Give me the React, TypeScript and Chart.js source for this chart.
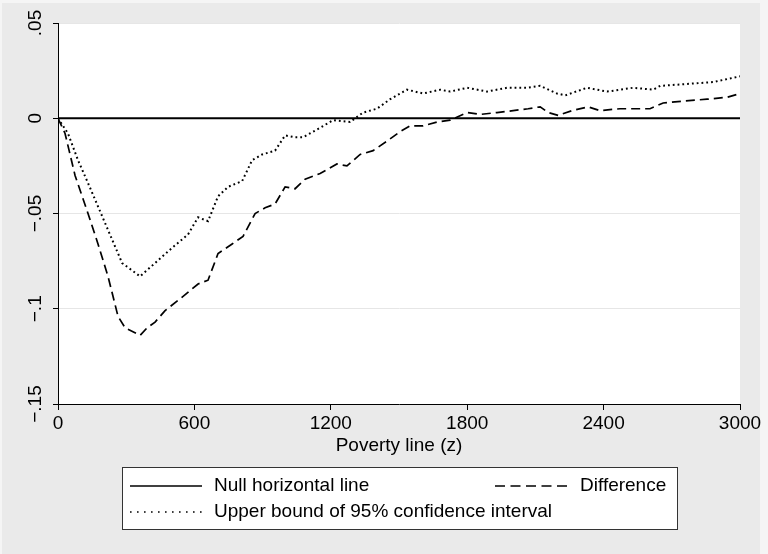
import React, { useEffect, useRef } from "react";
import Chart from "chart.js/auto";

// ---- data ----
const xTicks = [0, 600, 1200, 1800, 2400, 3000];
const xTickLabels = ["0", "600", "1200", "1800", "2400", "3000"];
const yTicks = [0.05, 0, -0.05, -0.1, -0.15];
const yTickLabels = [".05", "0", "\u2212.05", "\u2212.1", "\u2212.15"];

const nullZ = [0, 3000];
const nullV = [0, 0];

const diffZ = [0, 31, 75, 132, 176, 220, 264, 295, 361, 392, 427, 471, 545, 616, 660, 704, 766, 814, 867, 911, 955, 999, 1043, 1087, 1153, 1227, 1271, 1329, 1386, 1447, 1505, 1549, 1606, 1667, 1725, 1800, 1857, 1931, 2002, 2068, 2121, 2156, 2200, 2261, 2332, 2384, 2472, 2560, 2604, 2662, 2750, 2855, 2943, 3000];
const diffV = [0, -0.008, -0.03, -0.05, -0.066, -0.083, -0.104, -0.11, -0.114, -0.11, -0.107, -0.101, -0.094, -0.087, -0.085, -0.071, -0.066, -0.062, -0.05, -0.047, -0.045, -0.036, -0.037, -0.032, -0.029, -0.024, -0.025, -0.019, -0.017, -0.012, -0.007, -0.004, -0.004, -0.002, -0.001, 0.003, 0.002, 0.003, 0.004, 0.005, 0.006, 0.003, 0.0015, 0.004, 0.006, 0.004, 0.005, 0.005, 0.005, 0.008, 0.009, 0.01, 0.011, 0.013];

const upZ = [0, 44, 88, 132, 207, 282, 361, 427, 502, 572, 616, 660, 704, 748, 810, 854, 898, 955, 999, 1043, 1078, 1153, 1210, 1285, 1342, 1403, 1461, 1535, 1606, 1681, 1725, 1800, 1887, 1975, 2063, 2121, 2195, 2231, 2327, 2415, 2530, 2618, 2649, 2767, 2882, 3000];
const upV = [0, -0.008, -0.022, -0.034, -0.055, -0.076, -0.083, -0.076, -0.068, -0.061, -0.052, -0.054, -0.041, -0.036, -0.033, -0.022, -0.019, -0.017, -0.009, -0.01, -0.01, -0.005, -0.001, -0.002, 0.003, 0.005, 0.01, 0.015, 0.013, 0.015, 0.014, 0.016, 0.014, 0.016, 0.016, 0.017, 0.013, 0.012, 0.016, 0.014, 0.016, 0.015, 0.017, 0.018, 0.019, 0.022];

const legendLabels = ["Null horizontal line", "Difference", "Upper bound of 95% confidence interval"];
const xTitle = "Poverty line (z)";

const FONT = "'Liberation Sans', Arial, Helvetica, sans-serif";
const W = 768;
const H = 554;

const toPts = (xs: number[], ys: number[]) => xs.map((x, i) => ({ x, y: ys[i] }));

export default function App() {
  const ref = useRef<HTMLCanvasElement>(null);

  useEffect(() => {
    const canvas = ref.current;
    if (!canvas) return;

    const decor = {
      id: "decor",
      beforeDraw(chart: any) {
        const { ctx, chartArea } = chart;
        ctx.save();
        ctx.fillStyle = "#f5f5f5";
        ctx.fillRect(0, 0, W, H);
        ctx.fillStyle = "#eaeaea";
        ctx.fillRect(2, 3, 758, H - 3);
        ctx.fillStyle = "#ffffff";
        ctx.fillRect(chartArea.left, chartArea.top, chartArea.right - chartArea.left, chartArea.bottom - chartArea.top);
        ctx.restore();
      },
      afterDraw(chart: any) {
        const { ctx, scales, chartArea } = chart;
        const y = scales.y;
        ctx.save();
        ctx.fillStyle = "#000";
        ctx.font = `19px ${FONT}`;
        // y tick labels (rotated)
        yTicks.forEach((v, i) => {
          const py = y.getPixelForValue(v);
          ctx.save();
          ctx.translate(36, py);
          ctx.rotate(-Math.PI / 2);
          ctx.textAlign = "center";
          ctx.textBaseline = "middle";
          ctx.fillText(yTickLabels[i], 0, 0);
          ctx.restore();
        });
        // x axis title
        ctx.textAlign = "center";
        ctx.textBaseline = "middle";
        ctx.fillText(xTitle, (chartArea.left + chartArea.right) / 2, 446);

        // legend box
        const bx = 122, by = 467, bw = 555, bh = 62;
        ctx.fillStyle = "#ffffff";
        ctx.fillRect(bx, by, bw, bh);
        ctx.strokeStyle = "#333";
        ctx.lineWidth = 1;
        ctx.strokeRect(bx + 0.5, by + 0.5, bw, bh);

        const row1 = 486, row2 = 512;
        ctx.strokeStyle = "#000";
        ctx.lineWidth = 1.6;
        // solid
        ctx.setLineDash([]);
        ctx.beginPath();
        ctx.moveTo(130, row1);
        ctx.lineTo(202, row1);
        ctx.stroke();
        // dashed
        ctx.setLineDash([10, 5.5]);
        ctx.beginPath();
        ctx.moveTo(495, row1);
        ctx.lineTo(569, row1);
        ctx.stroke();
        // dotted
        ctx.setLineDash([1.6, 5.4]);
        ctx.beginPath();
        ctx.moveTo(130, row2);
        ctx.lineTo(203, row2);
        ctx.stroke();
        ctx.setLineDash([]);

        ctx.fillStyle = "#000";
        ctx.textAlign = "left";
        ctx.textBaseline = "middle";
        ctx.fillText(legendLabels[0], 214, row1);
        ctx.fillText(legendLabels[1], 580, row1);
        ctx.fillText(legendLabels[2], 214, row2);
        ctx.restore();
      },
    };

    const chart = new Chart(canvas, {
      type: "line",
      data: {
        datasets: [
          {
            label: legendLabels[0],
            data: toPts(nullZ, nullV),
            borderColor: "#000",
            borderWidth: 1.8,
            pointRadius: 0,
            tension: 0,
          },
          {
            label: legendLabels[1],
            data: toPts(diffZ, diffV),
            borderColor: "#000",
            borderWidth: 1.7,
            borderDash: [9, 5],
            pointRadius: 0,
            tension: 0,
          },
          {
            label: legendLabels[2],
            data: toPts(upZ, upV),
            borderColor: "#000",
            borderWidth: 2,
            borderDash: [1.8, 3],
            pointRadius: 0,
            tension: 0,
          },
        ],
      },
      options: {
        animation: false,
        responsive: false,
        devicePixelRatio: 1,
        events: [],
        layout: { padding: { left: 0, top: 23, right: 28, bottom: 0 } },
        plugins: {
          legend: { display: false },
          tooltip: { enabled: false },
          title: { display: false },
        },
        scales: {
          x: {
            type: "linear",
            min: 0,
            max: 3000,
            afterFit: (s: any) => {
              s.height = 150;
            },
            afterBuildTicks: (s: any) => {
              s.ticks = xTicks.map((v) => ({ value: v }));
            },
            ticks: {
              color: "#000",
              font: { family: FONT, size: 19 },
              padding: 2,
              maxRotation: 0,
              minRotation: 0,
              autoSkip: false,
              callback: (value: any) => {
                const i = xTicks.indexOf(Number(value));
                return i >= 0 ? xTickLabels[i] : "";
              },
            },
            grid: {
              display: true,
              drawOnChartArea: false,
              drawTicks: true,
              tickLength: 6,
              tickColor: "#000",
              tickWidth: 1,
            },
            border: { display: true, color: "#000", width: 1 },
          },
          y: {
            type: "linear",
            min: -0.15,
            max: 0.05,
            afterFit: (s: any) => {
              s.width = 58;
            },
            afterBuildTicks: (s: any) => {
              s.ticks = yTicks.map((v) => ({ value: v }));
            },
            ticks: { display: false },
            grid: {
              display: true,
              drawOnChartArea: true,
              drawTicks: true,
              tickLength: 5,
              color: "#e6e6e6",
              tickColor: "#000",
              lineWidth: 1,
            },
            border: { display: true, color: "#000", width: 1 },
          },
        },
      },
      plugins: [decor],
    } as any);

    return () => chart.destroy();
  }, []);

  return (
    <div style={{ position: "absolute", left: 0, top: 0, width: W, height: H }}>
      <canvas ref={ref} width={W} height={H} style={{ display: "block", width: W, height: H }} />
    </div>
  );
}
